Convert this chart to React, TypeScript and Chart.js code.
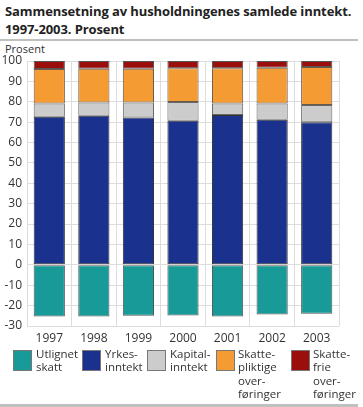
import React, { useEffect, useRef } from "react";
import { Chart, registerables } from "chart.js";

Chart.register(...registerables);

const years = ["1997", "1998", "1999", "2000", "2001", "2002", "2003"];
const utlignetSkatt = [-25.3, -25.3, -25.0, -24.8, -25.3, -24.3, -24.0];
const yrkesinntekt = [72.7, 73.2, 72.3, 70.7, 73.5, 71.2, 69.9];
const kapitalinntekt = [6.4, 6.4, 7.3, 9.2, 5.6, 7.9, 8.5];
const skattepliktige = [17.0, 16.6, 16.6, 16.5, 17.3, 17.6, 18.7];
const skattefrie = [3.9, 3.8, 3.8, 3.6, 3.6, 3.3, 2.9];

const legendItems = [
  { lines: ["Utlignet", "skatt"], color: "#179a98", x: 13, tx: 36 },
  { lines: ["Yrkes-", "inntekt"], color: "#1a318e", x: 82, tx: 105 },
  { lines: ["Kapital-", "inntekt"], color: "#cccccc", x: 147, tx: 170 },
  { lines: ["Skatte-", "pliktige", "over-", "føringer"], color: "#f59b33", x: 216, tx: 238 },
  { lines: ["Skatte-", "frie", "over-", "føringer"], color: "#9a0f0b", x: 291, tx: 313 },
];

const FONT = "'Open Sans', 'DejaVu Sans', sans-serif";

export default function App() {
  const ref = useRef<HTMLCanvasElement | null>(null);

  useEffect(() => {
    document.body.style.margin = "0";
    if (!ref.current) return;
    const ds = (label: string, data: number[], bg: string, border: string) => ({
      label,
      data,
      backgroundColor: bg,
      borderColor: border,
      borderWidth: 1,
      borderSkipped: false,
      categoryPercentage: 1,
      barPercentage: 0.7,
    });
    const chart = new Chart(ref.current, {
      type: "bar",
      data: {
        labels: years,
        datasets: [
          ds("Utlignet skatt", utlignetSkatt, "#179a98", "#555555"),
          ds("Yrkesinntekt", yrkesinntekt, "#1a318e", "#333333"),
          ds("Kapitalinntekt", kapitalinntekt, "#cccccc", "#666666"),
          ds("Skattepliktige overføringer", skattepliktige, "#f59b33", "#6a5a4a"),
          ds("Skattefrie overføringer", skattefrie, "#9a0f0b", "#555555"),
        ],
      },
      options: {
        animation: false,
        responsive: false,
        maintainAspectRatio: false,
        layout: { padding: { top: 21, right: 24, left: 0, bottom: 0 } },
        plugins: { legend: { display: false }, tooltip: { enabled: false }, title: { display: false } },
        scales: {
          x: {
            stacked: true,
            grid: { color: "#dddddd", lineWidth: 1, drawTicks: false, offset: true },
            border: { display: false },
            ticks: { color: "#333333", font: { family: FONT, size: 12 }, padding: 5 },
            afterFit: (s: any) => {
              s.height = 24;
            },
          },
          y: {
            stacked: true,
            min: -30,
            max: 100,
            grid: { color: "#dddddd", lineWidth: 1, drawTicks: false },
            border: { display: false },
            ticks: {
              stepSize: 10,
              color: "#333333",
              font: { family: FONT, size: 12 },
              padding: 5,
            },
            afterFit: (s: any) => {
              s.width = 27;
            },
          },
        },
      },
    });
    return () => chart.destroy();
  }, []);

  return (
    <div style={{ position: "relative", width: 363, height: 407, background: "#fff", fontFamily: FONT, color: "#222" }}>
      <div
        style={{
          position: "absolute",
          left: 5,
          top: 2,
          fontWeight: 700,
          fontSize: 13,
          lineHeight: "18px",
          color: "#222",
          whiteSpace: "nowrap",
          letterSpacing: -0.1,
        }}
      >
        Sammensetning av husholdningenes samlede inntekt.
        <br />
        1997-2003. Prosent
      </div>
      <div style={{ position: "absolute", left: 0, top: 39, width: 358, height: 2, background: "#c0c0c0" }} />
      <div style={{ position: "absolute", left: 5, top: 41, fontSize: 11, color: "#333" }}>Prosent</div>
      <canvas ref={ref} width={363} height={310} style={{ position: "absolute", left: 0, top: 40 }} />
      {legendItems.map((it, i) => (
        <React.Fragment key={i}>
          <div
            style={{
              position: "absolute",
              left: it.x,
              top: 350,
              width: 19,
              height: 21,
              background: it.color,
              border: "1px solid #777",
              boxSizing: "border-box",
            }}
          />
          <div style={{ position: "absolute", left: it.tx, top: 347, fontSize: 11.5, lineHeight: "13.3px", color: "#333" }}>
            {it.lines.map((l, j) => (
              <div key={j}>{l}</div>
            ))}
          </div>
        </React.Fragment>
      ))}
      <div style={{ position: "absolute", left: 0, top: 404, width: 358, height: 3, background: "#c0c0c0" }} />
    </div>
  );
}
